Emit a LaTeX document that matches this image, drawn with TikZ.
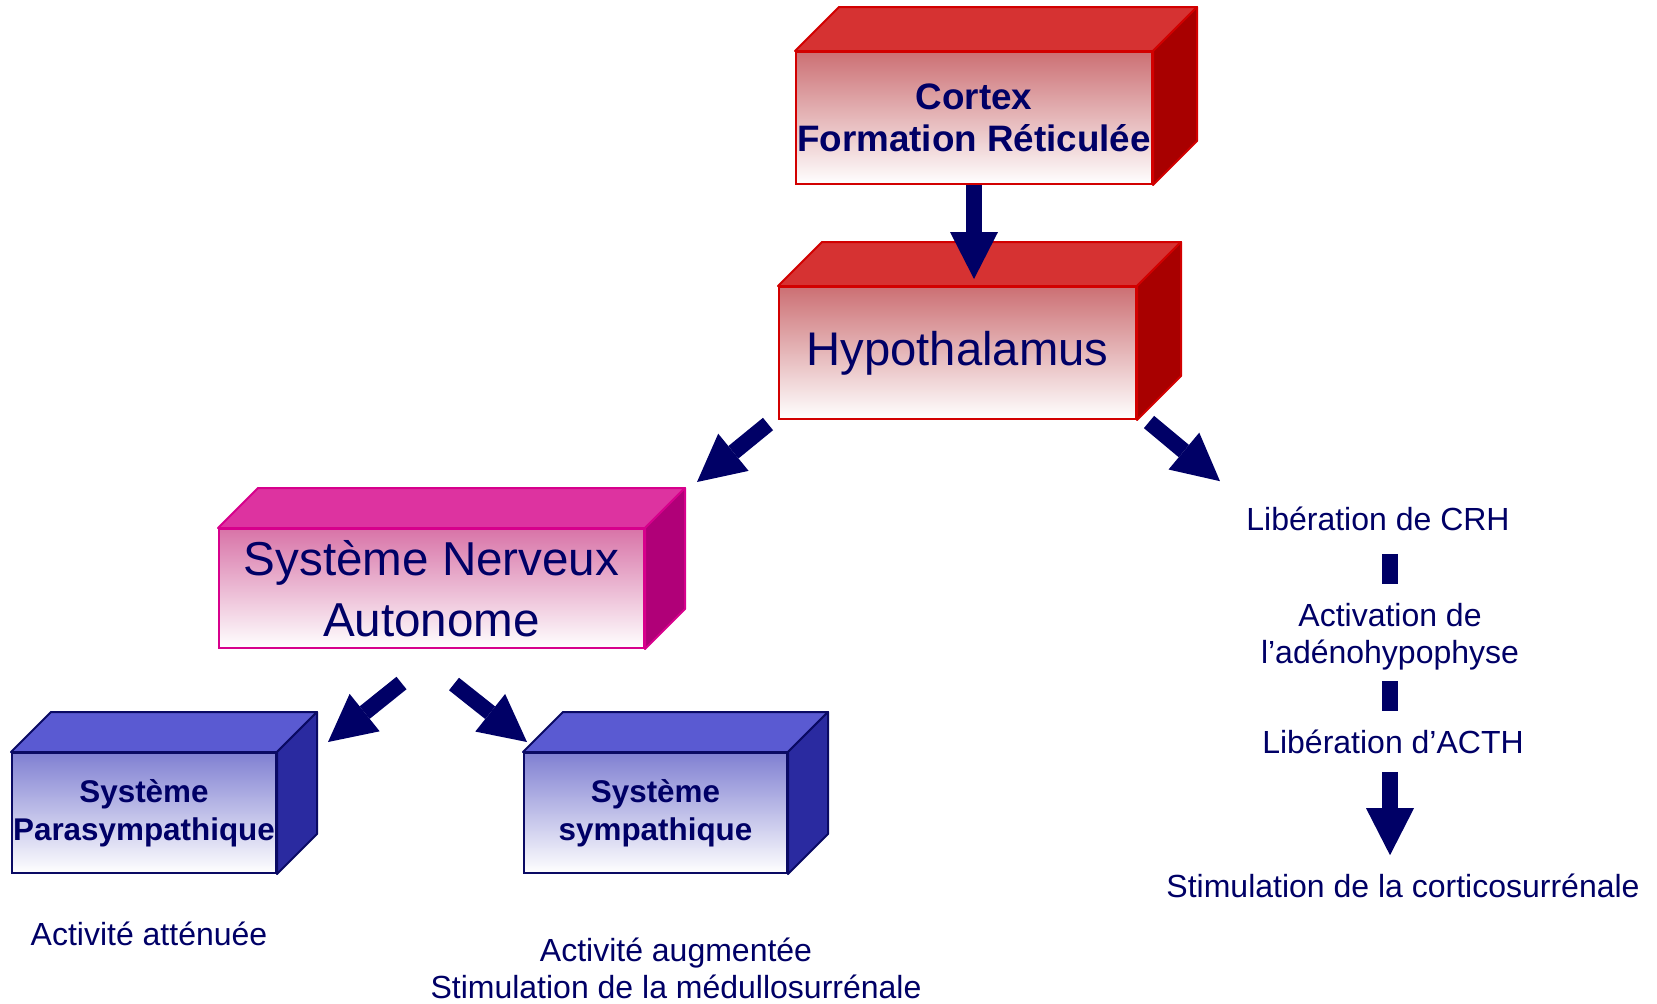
\documentclass[tikz,border=0pt]{standalone}
\usepackage{fontspec}
\setmainfont{Liberation Sans}
\usetikzlibrary{arrows.meta}

\definecolor{ink}{RGB}{0,0,102}
\definecolor{redtop}{RGB}{214,50,50}
\definecolor{redside}{RGB}{168,0,0}
\definecolor{redline}{RGB}{210,0,0}
\definecolor{redfront}{RGB}{204,112,116}
\definecolor{pinktop}{RGB}{221,51,160}
\definecolor{pinkside}{RGB}{176,0,120}
\definecolor{pinkline}{RGB}{215,0,140}
\definecolor{pinkfront}{RGB}{216,116,168}
\definecolor{bluetop}{RGB}{90,90,210}
\definecolor{blueside}{RGB}{42,42,160}
\definecolor{blueline}{RGB}{10,10,100}
\definecolor{bluefront}{RGB}{128,128,210}

% top and side faces of a box node: name, depth, top, side, border
\newcommand{\cubefaces}[5]{%
  \filldraw[fill=#3, draw=#5, line width=1pt, line join=round]
    (#1.north west) -- ++(#2,-#2) -- ([shift={(#2,-#2)}]#1.north east) -- (#1.north east) -- cycle;
  \filldraw[fill=#4, draw=#5, line width=1pt, line join=round]
    (#1.north east) -- ++(#2,-#2) -- ([shift={(#2,-#2)}]#1.south east) -- (#1.south east) -- cycle;
}

\begin{document}
\begin{tikzpicture}[x=0.5pt, y=-0.5pt,
    box/.style={rectangle, inner sep=0pt, align=center, text=ink, line width=1pt},
    txt/.style={inner sep=0pt, align=center, text=ink, font=\fontsize{16}{18.5}\selectfont},
    bigarrow/.style={draw=ink, line width=8pt, -{Triangle[width=24pt,length=23.5pt,line width=0pt]}},
    link/.style={draw=ink, line width=8pt}]
  \useasboundingbox (0,0) rectangle (1657,1003);

  % boxes
  \node[box, minimum width=178pt, minimum height=66pt, draw=redline,
        top color=redfront, bottom color=white,
        font=\bfseries\fontsize{18.4}{21}\selectfont] (cortex) at (974,118) {Cortex\\Formation Réticulée};
  \cubefaces{cortex}{44}{redtop}{redside}{redline}

  \node[box, minimum width=178.5pt, minimum height=66pt, draw=redline,
        top color=redfront, bottom color=white,
        font=\fontsize{23.6}{28}\selectfont] (hypo) at (957.5,353) {Hypothalamus};
  \cubefaces{hypo}{44}{redtop}{redside}{redline}

  \node[box, minimum width=212.5pt, minimum height=59.5pt, draw=pinkline,
        top color=pinkfront, bottom color=white,
        font=\fontsize{23.8}{30.5}\selectfont] (sna) at (431.5,588.5) {Système Nerveux\\Autonome};
  \cubefaces{sna}{40}{pinktop}{pinkside}{pinkline}

  \node[box, minimum width=132pt, minimum height=60pt, draw=blueline,
        top color=bluefront, bottom color=white,
        font=\bfseries\fontsize{15.7}{19}\selectfont] (para) at (144,813) {Système\\Parasympathique};
  \cubefaces{para}{40}{bluetop}{blueside}{blueline}

  \node[box, minimum width=131.5pt, minimum height=60pt, draw=blueline,
        top color=bluefront, bottom color=white,
        font=\bfseries\fontsize{15.7}{19}\selectfont] (symp) at (655.5,813) {Système\\sympathique};
  \cubefaces{symp}{40}{bluetop}{blueside}{blueline}

  % texts
  \node[txt] (attenuee) at (149,934) {Activité atténuée};
  \node[txt] (augmentee) at (676,968) {Activité augmentée\\Stimulation de la médullosurrénale};
  \node[txt] (crh) at (1378,518.5) {Libération de CRH};
  \node[txt] (act) at (1390,636.5) {Activation de\\l’adénohypophyse};
  \node[txt] (acth) at (1393,741.5) {Libération d’ACTH};
  \node[txt] (stim) at (1403,885.5) {Stimulation de la corticosurrénale};

  % arrows
  \draw[bigarrow, shorten >=3.5pt] (cortex.south) -- (cortex.south |- hypo.north);
  \draw[bigarrow] ([shift={(-10,4)}]hypo.south west) -- ([shift={(52,-46)}]sna.north east);
  \draw[bigarrow] ([shift={(12,2)}]hypo.south east) -- ([shift={(-26,-25)}]crh.north west);
  \draw[bigarrow] ([shift={(-30,34)}]sna.south) -- ([shift={(51,-10)}]para.north east);
  \draw[bigarrow] ([shift={(22.5,35)}]sna.south) -- ([shift={(4,-10)}]symp.north west);

  \draw[link, shorten <=11.5pt, shorten >=9.5pt] (crh.south -| act.north) -- (act.north);
  \draw[link, shorten <=5.5pt, shorten >=9pt] (act.south) -- (acth.north -| act.south);
  \draw[bigarrow, shorten <=9pt, shorten >=9pt] (acth.south -| act.south) -- (stim.north -| act.south);
\end{tikzpicture}
\end{document}
